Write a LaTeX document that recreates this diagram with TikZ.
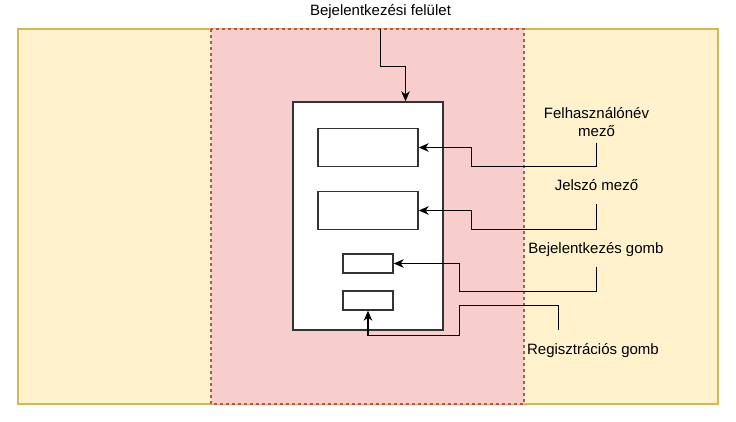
\documentclass[tikz,border=0pt]{standalone}
\usepackage{fontspec}
\setmainfont{Liberation Sans}
\usetikzlibrary{positioning,arrows.meta}
\definecolor{zonefill}{HTML}{FFF2CC}
\definecolor{zoneline}{HTML}{D6B656}
\definecolor{uifill}{HTML}{F8CECC}
\definecolor{uiline}{HTML}{B85450}
\definecolor{boxline}{HTML}{333333}
\tikzset{
  lbl/.style={inner sep=0pt, font=\fontsize{15}{18}\selectfont},
  uibox/.style={draw=boxline, fill=white, line width=1.4pt, inner sep=0pt},
  conn/.style={draw=black, line width=1.1pt, -{Stealth[length=10pt,width=8.5pt,inset=3pt]}}
}
\begin{document}
\begin{tikzpicture}[x=1pt,y=-1pt]
\useasboundingbox (0,0) rectangle (736,422);
\draw [fill=zonefill, draw=zoneline, line width=1.4pt] (18,29) rectangle (718,404);
\draw [fill=uifill, draw=uiline, line width=1.3pt, dash pattern=on 3pt off 3pt] (211,29) rectangle (524,404);
\node [uibox, minimum width=150pt, minimum height=228pt] (screen) at (368,216) {};
\node [uibox, minimum width=100pt, minimum height=38pt] (userfield) at (368,147.5) {};
\node [uibox, minimum width=100pt, minimum height=38pt] (pwfield) at (368,210.5) {};
\node [uibox, minimum width=50pt, minimum height=19pt] (loginbtn) at (368,263.5) {};
\node [uibox, minimum width=50pt, minimum height=19pt] (regbtn) at (368,300.5) {};
\node [lbl, anchor=base] (title) at (380.5,16) {Bejelentkezési felület};
\node [lbl, anchor=south, align=center] (userlbl) at (596.5,137.3) {Felhasználónév\\mező};
\node [lbl, anchor=base] (pwlbl) at (596.5,190.7) {Jelszó mező};
\node [lbl, anchor=base] (loginlbl) at (596,253.3) {Bejelentkezés gomb};
\node [lbl, anchor=base] (reglbl) at (593,354) {Regisztrációs gomb};
\draw [conn] (title.base) ++(0,13) -- ++(0,37.5) -| ([xshift=37.5pt]screen.north);
\draw [conn] (userlbl.south) ++(0,5.4) -- (596.5,166.5) -| (471.5,147.5) -- (userfield.east);
\draw [conn] (pwlbl.base) ++(0,13.3) -- (596.5,229.5) -| (471.5,210.5) -- (pwfield.east);
\draw [conn] (loginlbl.base) ++(0.5,13.4) -- (596.5,291.5) -| (459.5,263.5) -- (loginbtn.east);
\draw [conn] (reglbl.base) ++(-34.5,-24) -- (558.5,305.5) -| (459.5,335.5) -| (regbtn.south);
\end{tikzpicture}
\end{document}
